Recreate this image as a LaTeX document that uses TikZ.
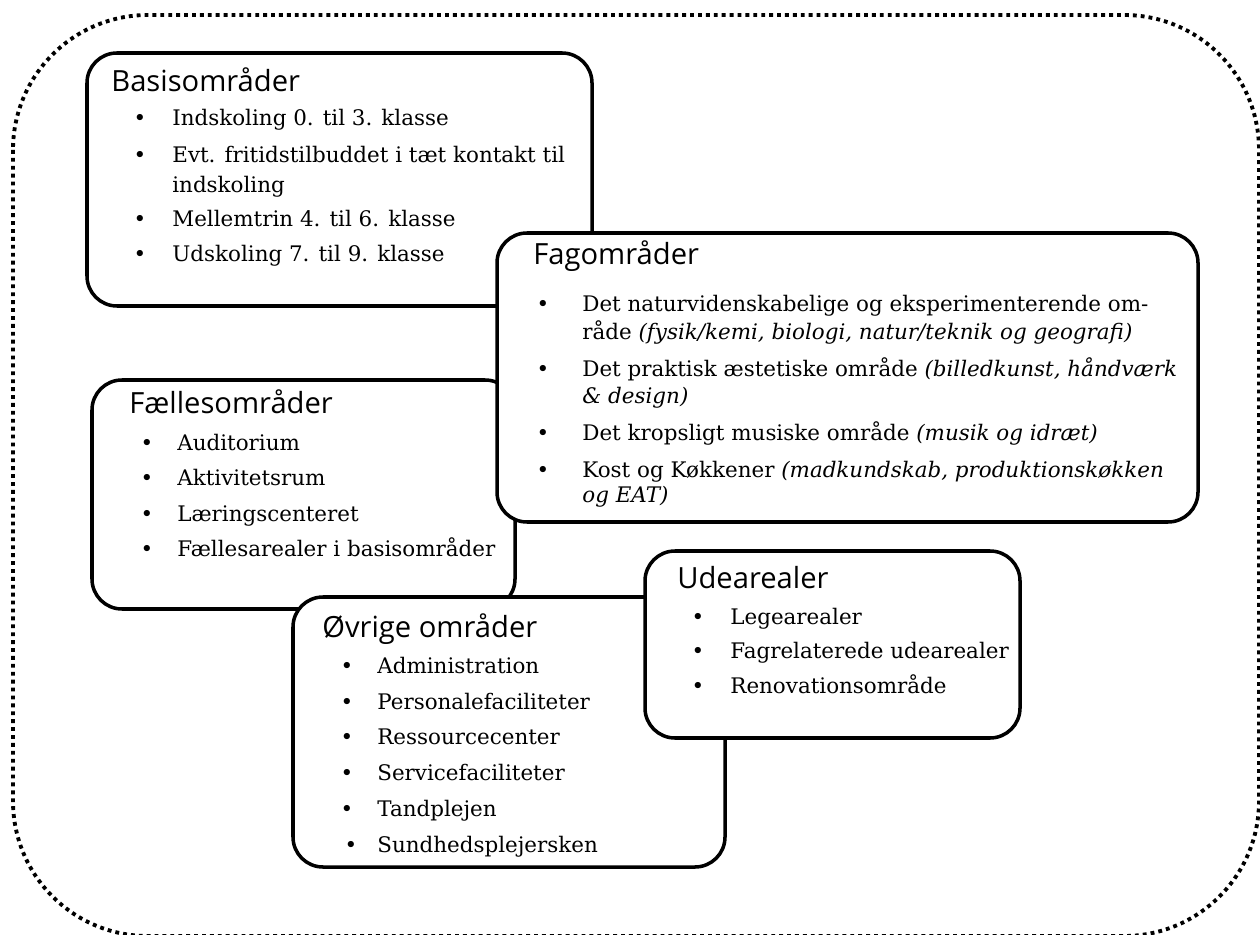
\documentclass[tikz,border=0pt]{standalone}
\usepackage{fontspec}
\setmainfont{DejaVu Serif}
\newfontfamily\headfont{Open Sans}

\tikzstyle{area} = [draw=black, fill=white, line width=2pt, rounded corners=0.6cm]
\tikzstyle{areahead} = [anchor=base west, inner sep=0pt, font=\headfont\fontsize{16.6}{19}\selectfont]
\tikzstyle{areaitem} = [anchor=base west, inner sep=0pt, font=\fontsize{12.2}{15}\selectfont]
\tikzstyle{areabullet} = [anchor=base, inner sep=0pt, font=\fontsize{12.2}{15}\selectfont]

\begin{document}
\begin{tikzpicture}[x=0.02cm, y=-0.02cm]
	\useasboundingbox (0,0) rectangle (1260,935);
	\draw[line width=2.2pt, dash pattern=on 2.2pt off 2.3pt, rounded corners=2.7cm] (13,15) rectangle (1259,936);
	
	\draw[area] (87,53) rectangle (592,306);
	\node[areahead] (basis) at (111,92) {Basisområder};
	\node[areabullet] (basis-b1) at (140,126) {\textbullet};
	\node[areabullet] (basis-b2) at (140,163) {\textbullet};
	\node[areabullet] (basis-b3) at (140,227) {\textbullet};
	\node[areabullet] (basis-b4) at (140,262) {\textbullet};
	\node[areaitem] (basis-1) at (172,126) {Indskoling 0. til 3. klasse};
	\node[areaitem] (basis-2) at (172,163) {Evt. fritidstilbuddet i tæt kontakt til};
	\node[areaitem] (basis-2b) at (172,193) {indskoling};
	\node[areaitem] (basis-3) at (172,227) {Mellemtrin 4. til 6. klasse};
	\node[areaitem] (basis-4) at (172,262) {Udskoling 7. til 9. klasse};
	
	\draw[area] (92,380) rectangle (515,609);
	\node[areahead] (faelles) at (129,414) {Fællesområder};
	\node[areabullet] (faelles-b1) at (147,450) {\textbullet};
	\node[areabullet] (faelles-b2) at (147,485) {\textbullet};
	\node[areabullet] (faelles-b3) at (147,521) {\textbullet};
	\node[areabullet] (faelles-b4) at (147,556) {\textbullet};
	\node[areaitem] (faelles-1) at (177,450) {Auditorium};
	\node[areaitem] (faelles-2) at (177,485) {Aktivitetsrum};
	\node[areaitem] (faelles-3) at (177,521) {Læringscenteret};
	\node[areaitem] (faelles-4) at (177,556) {Fællesarealer i basisområder};
	
	\draw[area] (497,233) rectangle (1198,522);
	\node[areahead] (fag) at (533,265) {Fagområder};
	\node[areabullet] (fag-b1) at (543,312) {\textbullet};
	\node[areabullet] (fag-b2) at (543,377) {\textbullet};
	\node[areabullet] (fag-b3) at (543,440) {\textbullet};
	\node[areabullet] (fag-b4) at (543,477) {\textbullet};
	\node[areaitem] (fag-1) at (582,312) {Det naturvidenskabelige og eksperimenterende om-};
	\node[areaitem] (fag-1b) at (582,340) {råde \textit{(fysik/kemi, biologi, natur/teknik og geografi)}};
	\node[areaitem] (fag-2) at (582,377) {Det praktisk æstetiske område \textit{(billedkunst, håndværk}};
	\node[areaitem] (fag-2b) at (582,403) {\textit{\& design)}};
	\node[areaitem] (fag-3) at (582,440) {Det kropsligt musiske område \textit{(musik og idræt)}};
	\node[areaitem] (fag-4) at (582,477) {Kost og Køkkener \textit{(madkundskab, produktionskøkken}};
	\node[areaitem] (fag-4b) at (582,502) {\textit{og EAT)}};
	
	\draw[area] (293,597) rectangle (725,867);
	\node[areahead] (oevrige) at (322,637) {Øvrige områder};
	\node[areabullet] (oevrige-b1) at (347,673) {\textbullet};
	\node[areabullet] (oevrige-b2) at (347,709) {\textbullet};
	\node[areabullet] (oevrige-b3) at (347,744) {\textbullet};
	\node[areabullet] (oevrige-b4) at (347,780) {\textbullet};
	\node[areabullet] (oevrige-b5) at (347,816) {\textbullet};
	\node[areabullet] (oevrige-b6) at (351,852) {\textbullet};
	\node[areaitem] (oevrige-1) at (377,673) {Administration};
	\node[areaitem] (oevrige-2) at (377,709) {Personalefaciliteter};
	\node[areaitem] (oevrige-3) at (377,744) {Ressourcecenter};
	\node[areaitem] (oevrige-4) at (377,780) {Servicefaciliteter};
	\node[areaitem] (oevrige-5) at (377,816) {Tandplejen};
	\node[areaitem] (oevrige-6) at (377,852) {Sundhedsplejersken};
	
	\draw[area] (645,551) rectangle (1020,738);
	\node[areahead] (ude) at (677,588) {Udearealer};
	\node[areabullet] (ude-b1) at (698,624) {\textbullet};
	\node[areabullet] (ude-b2) at (698,658) {\textbullet};
	\node[areabullet] (ude-b3) at (698,693) {\textbullet};
	\node[areaitem] (ude-1) at (730,624) {Legearealer};
	\node[areaitem] (ude-2) at (730,658) {Fagrelaterede udearealer};
	\node[areaitem] (ude-3) at (730,693) {Renovationsområde};
\end{tikzpicture}
\end{document}
